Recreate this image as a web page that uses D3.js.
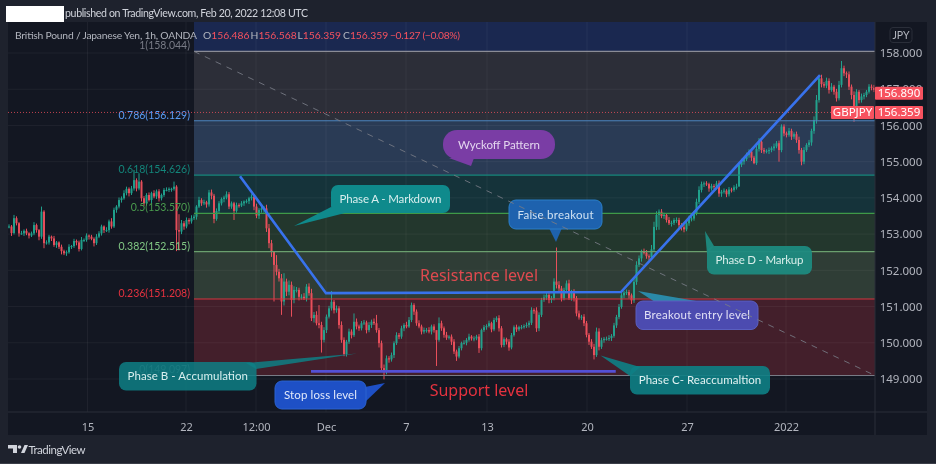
<!DOCTYPE html>
<html>
<head>
<meta charset="utf-8">
<style>
html,body{margin:0;padding:0;background:#1e222d;overflow:hidden;}
svg{display:block;font-family:Lato,"Noto Sans",sans-serif;filter:blur(0.35px);}
</style>
<script src="https://cdn.jsdelivr.net/npm/d3@7"></script>
</head>
<body>
<svg id="chart" width="936" height="464"></svg>
<script>
// hourly closes, left to right
const closes = [
153.21,153.03,153.44,153.30,153.02,153.02,153.09,153.02,152.96,153.02,153.25,153.11,152.93,153.62,152.75,152.77,152.93,152.88,152.70,152.77,
152.65,152.53,152.47,152.50,152.65,152.67,152.81,152.77,152.59,152.84,152.84,152.96,152.93,152.87,152.75,152.93,153.02,153.21,153.11,153.11,
153.35,153.21,153.67,153.76,153.94,153.99,154.13,154.25,154.13,154.26,154.49,154.26,154.45,153.99,153.85,154.08,153.94,154.13,154.04,154.18,
153.99,154.08,154.22,154.22,154.25,154.25,154.31,153.11,153.07,153.30,153.21,153.39,153.35,
153.44,153.48,153.76,153.94,153.85,153.88,153.82,154.15,154.06,153.42,153.64,153.85,153.97,154.01,154.10,153.76,153.85,153.64,153.80,153.79,
153.85,153.90,153.91,153.99,154.03,153.76,153.51,153.67,153.71,153.71,153.16,152.75,152.52,152.15,151.96,151.78,151.14,151.69,151.41,151.60,
151.18,151.46,
151.46,151.27,151.27,151.23,151.55,151.37,150.68,150.77,150.54,150.49,150.08,150.35,150.72,150.95,151.13,150.90,150.95,150.49,150.08,149.69,
150.03,150.31,150.21,150.58,150.45,150.40,150.54,150.56,150.35,150.49,150.58,150.54,150.35,149.99,149.30,149.20,149.57,149.54,149.66,149.99,
150.21,150.17,150.40,150.49,150.45,150.63,151.04,150.86,150.54,150.45,150.31,150.35,150.35,150.31,150.45,150.35,
150.08,150.54,150.40,150.22,150.14,150.17,150.03,149.76,149.62,149.85,149.99,150.00,150.08,150.17,150.12,150.12,150.17,149.85,150.35,150.43,
150.46,150.54,150.37,150.63,150.68,150.40,149.94,150.10,150.03,149.87,150.21,150.43,150.37,150.43,150.43,150.46,150.49,150.55,150.90,150.89,
150.40,150.77,151.18,151.25,151.32,151.18,151.23,151.69,151.60,151.50,151.23,151.46,151.64,151.23,151.41,151.23,150.81,150.70,150.72,150.54,
150.22,150.03,149.89,149.66,150.31,149.89,
150.07,150.11,150.11,150.13,150.19,150.48,150.71,150.99,151.31,151.38,151.40,151.31,151.17,151.68,
152.15,152.33,152.51,152.49,152.39,152.36,152.58,153.20,153.53,153.62,153.50,153.53,153.39,153.30,153.31,153.39,153.39,153.25,153.19,153.13,
153.30,153.43,153.43,153.57,153.89,154.22,154.38,154.40,154.38,154.26,154.33,154.31,154.40,154.12,154.17,154.20,154.10,154.23,154.22,154.29,154.31,
154.91,155.00,155.07,155.18,155.28,155.11,154.96,155.35,155.55,155.32,155.28,155.30,155.32,155.37,155.42,155.51,155.32,155.97,155.78,155.74,
155.85,155.69,155.76,155.60,155.32,155.00,155.32,155.46,155.53,155.85,156.15,156.70,157.30,157.14,157.10,157.23,156.98,157.07,156.93,156.75,
157.12,157.58,157.44,157.41,157.07,156.84,156.47,156.93,156.70,156.80,156.84,156.93,157.07,157.04,156.98
];

// small wicks on each bar, in yen above and below the body
const upperWicks = [
.06,.04,.09,.05,.03,.07,.04,.06,.03,.05,.08,.04,.03,.10,.04,.06,.05,.03,.07,.04,
.03,.06,.04,.05,.07,.03,.06,.04,.05,.08,.04,.06,.03,.05,.04,.07,.06,.05,.03,.08,
.05,.09,.06,.04,.07,.05,.08,.06,.04,.07,.09,.05,.08,.04,.06,.05,.07,.04,.08,.05,
.06,.04,.05,.07,.04,.03,.06,.08,.05,.09,.06,.07,.05,
.08,.06,.04,.09,.05,.07,.04,.06,.08,.05,.07,.06,.04,.05,.08,.06,.05,.04,.07,.05,
.06,.03,.05,.04,.07,.06,.08,.05,.04,.06,.10,.12,.09,.14,.10,.08,.12,.10,.08,.12,
.09,.10,
.08,.06,.07,.10,.05,.09,.12,.08,.10,.07,.09,.08,.06,.07,.09,.05,.08,.06,.10,.07,
.05,.08,.06,.07,.09,.05,.06,.07,.05,.08,.06,.09,.05,.06,.07,.10,.08,.06,.07,.05,
.08,.06,.07,.05,.09,.08,.07,.05,.06,.08,.05,.07,.06,.08,.05,.06,
.10,.06,.07,.05,.08,.04,.06,.07,.05,.06,.04,.07,.05,.08,.04,.06,.05,.07,.04,.06,
.05,.07,.04,.06,.05,.08,.06,.05,.04,.07,.06,.05,.07,.04,.06,.05,.07,.06,.08,.05,
.09,.07,.06,.08,.07,.10,.06,.09,.08,.10,.07,.06,.08,.10,.05,.07,.06,.08,.05,.07,
.06,.05,.07,.08,.09,.06,
.07,.05,.06,.08,.05,.07,.06,.08,.06,.05,.07,.06,.05,.09,
.10,.08,.06,.09,.07,.05,.12,.14,.10,.08,.07,.06,.05,.08,.06,.05,.07,.06,.05,.07,
.06,.08,.05,.07,.09,.10,.07,.05,.06,.04,.06,.05,.07,.08,.05,.06,.04,.07,.05,.06,.08,
.06,.08,.05,.07,.06,.09,.05,.08,.07,.05,.06,.04,.07,.05,.08,.06,.07,.09,.06,.05,
.08,.06,.05,.07,.09,.06,.08,.05,.07,.06,.10,.14,.08,.10,.06,.09,.07,.10,.05,.08,
.11,.09,.07,.05,.08,.06,.10,.07,.05,.08,.06,.05,.07,.06,.08
];
const lowerWicks = [
.05,.08,.04,.06,.09,.04,.07,.05,.08,.04,.05,.07,.10,.06,.08,.04,.06,.07,.05,.08,
.06,.09,.05,.07,.04,.06,.05,.08,.07,.04,.06,.05,.08,.04,.09,.05,.04,.06,.08,.05,
.07,.06,.04,.08,.05,.07,.04,.06,.09,.05,.06,.08,.05,.09,.07,.06,.04,.08,.05,.07,
.09,.06,.05,.04,.06,.08,.05,.12,.10,.07,.09,.05,.08,
.06,.05,.08,.04,.07,.05,.09,.06,.10,.07,.05,.08,.06,.09,.05,.07,.06,.08,.05,.06,
.04,.07,.05,.08,.06,.10,.07,.09,.08,.12,.10,.14,.15,.12,.10,.09,.14,.11,.12,.10,
.12,.09,
.07,.10,.08,.05,.09,.07,.08,.12,.06,.09,.10,.07,.08,.05,.06,.09,.07,.10,.08,.09,
.07,.06,.09,.05,.08,.07,.06,.05,.09,.06,.08,.05,.07,.12,.10,.08,.07,.09,.06,.08,
.05,.07,.06,.08,.05,.04,.06,.09,.07,.05,.08,.06,.07,.05,.08,.07,
.09,.05,.07,.08,.06,.05,.09,.07,.10,.05,.06,.04,.07,.05,.06,.08,.05,.09,.06,.05,
.07,.04,.08,.05,.06,.09,.07,.06,.08,.10,.05,.04,.07,.05,.06,.04,.05,.07,.06,.09,
.10,.08,.06,.05,.07,.09,.08,.06,.10,.07,.09,.06,.08,.05,.07,.09,.08,.06,.07,.08,
.07,.09,.06,.08,.05,.10,
.06,.07,.05,.06,.08,.05,.07,.06,.05,.08,.06,.09,.10,.07,
.08,.06,.09,.05,.07,.08,.06,.05,.09,.07,.06,.08,.07,.05,.09,.06,.08,.07,.09,.06,
.05,.07,.08,.06,.05,.06,.07,.08,.05,.09,.06,.07,.08,.06,.09,.05,.08,.06,.07,.05,.06,
.10,.06,.08,.05,.07,.09,.12,.05,.07,.08,.06,.05,.09,.06,.07,.05,.09,.06,.08,.07,
.05,.09,.06,.08,.10,.12,.07,.05,.06,.09,.08,.10,.07,.09,.06,.07,.10,.05,.08,.09,
.06,.07,.08,.10,.09,.12,.08,.06,.09,.07,.08,.06,.05,.07,.06
];

// the wicks that stick out enough to read
const wickBars  = [13,14,23,50,52,66,67,68,80,82,90,106,107,109,110,113,119,124,125,129,134,138,147,150,161,171,172,179,188,200,219,234,235,236,260,270,284,292,298,300,308,309,317,333,338];
const wickHighs = [153.76,null,null,154.77,154.68,154.45,154.35,153.55,154.22,null,null,152.30,152.42,null,151.92,null,151.62,151.04,null,151.43,null,150.81,150.77,null,151.11,150.20,150.70,null,null,null,152.63,null,150.42,150.40,153.68,null,null,null,null,155.65,null,156.03,null,157.78,null];
const wickLows  = [null,152.61,152.40,null,null,null,152.53,152.55,null,153.30,153.39,151.14,null,150.77,null,150.72,null,null,149.73,null,149.63,null,null,148.99,null,149.36,null,149.50,149.72,149.78,null,149.54,null,null,153.12,153.05,154.03,154.50,154.93,null,155.00,null,154.90,null,156.10];

const fibRatios = ['1','0.786','0.618','0.5','0.382','0.236','0'];
const fibPrices = [158.044,156.129,154.626,153.570,152.515,151.208,149.097];

const priceTicks = [158,157,156,155,154,153,152,151,150,149];
const timeTickBars = [31.4,70.8,98.8,126.8,158.8,191.2,231.2,271.2,310.8];
const timeTickLabels = ['15','22','12:00','Dec','7','13','20','27','2022'];

const lastPrice = 156.359;
const crossPrice = 156.890;

// drawn trend lines, as bar / price
const trendBars = [92.4,126.8,244.8,324.4];
const trendPrices = [154.60,151.37,151.40,157.39];
const supportBars = [120.8,242.7];
const supportPrices = [149.21,149.21];

const ohlcLabels = ['O','H','L','C'];
const ohlcValues = ['156.486','156.568','156.359','156.359'];

const fibColors = ['#787b86','#5b9cf6','#13857a','#4a9c4e','#81c784','#e5323f','#5d6069'];
const fibLineColors = ['#8a8c96','#4d86c0','#16887c','#3f9a48','#6a9f6e','#d8343f','#787b86'];
const bandColors = ['#2c2e38','#2a3b55','#15333a','#23372d','#2f3d36','#431f2b'];
const upColor = '#22ab94', downColor = '#f7525f';

const W = 936, H = 464;
const pane = {l:8, t:22, r:875, b:412};
const axisRight = 927, axisBottom = 435;

const svg = d3.select('#chart');
const x = d3.scaleLinear().domain([0, closes.length-1]).range([9, 874]);
const y = d3.scaleLinear().domain([149, 158]).range([379, 53]);

// backgrounds
svg.append('rect').attr('width',W).attr('height',H).attr('fill','#1e222d');
svg.append('rect').attr('y',463).attr('width',W).attr('height',1).attr('fill','#3a3d47');
svg.append('rect').attr('x',pane.l).attr('y',pane.t).attr('width',axisRight-pane.l).attr('height',axisBottom-pane.t).attr('fill','#131722');

const bandX = x(74);
svg.append('rect').attr('x',bandX).attr('y',pane.t).attr('width',pane.r-bandX).attr('height',y(fibPrices[0])-pane.t).attr('fill','#1a2850');
svg.selectAll('.band')
	.data(bandColors)
	.join('rect')
	.attr('class','band')
	.attr('x',bandX)
	.attr('y',(d,i)=>y(fibPrices[i]))
	.attr('width',pane.r-bandX)
	.attr('height',(d,i)=>y(fibPrices[i+1])-y(fibPrices[i]))
	.attr('fill',d=>d);

// grid
const grid = svg.append('g').attr('stroke','#ffffff').attr('stroke-opacity',0.05);
grid.selectAll('.h').data(priceTicks).join('line').attr('class','h')
	.attr('x1',pane.l).attr('x2',pane.r).attr('y1',d=>y(d)).attr('y2',d=>y(d));
grid.selectAll('.v').data(timeTickBars).join('line').attr('class','v')
	.attr('x1',d=>x(d)).attr('x2',d=>x(d)).attr('y1',pane.t).attr('y2',pane.b);

// candles
const candles = closes.map((c,i)=>{
	const o = i===0 ? c : closes[i-1];
	const w = wickBars.indexOf(i);
	const hi = w>=0 && wickHighs[w]!==null ? wickHighs[w] : Math.max(o,c)+(upperWicks[i]||0);
	const lo = w>=0 && wickLows[w]!==null ? wickLows[w] : Math.min(o,c)-(lowerWicks[i]||0);
	return {i, o, c, hi, lo};
});
const candleG = svg.append('g').attr('opacity',0.92);
candleG.selectAll('line').data(candles).join('line')
	.attr('x1',d=>x(d.i)).attr('x2',d=>x(d.i))
	.attr('y1',d=>y(d.hi)).attr('y2',d=>y(d.lo))
	.attr('stroke',d=>d.c>=d.o?upColor:downColor).attr('stroke-width',1);
candleG.selectAll('rect').data(candles).join('rect')
	.attr('x',d=>x(d.i)-1).attr('width',2)
	.attr('y',d=>y(Math.max(d.o,d.c)))
	.attr('height',d=>Math.max(1,Math.abs(y(d.o)-y(d.c))))
	.attr('fill',d=>d.c>=d.o?upColor:downColor);

// fib lines and labels
svg.selectAll('.fib').data(fibPrices).join('line').attr('class','fib')
	.attr('x1',bandX).attr('x2',pane.r)
	.attr('y1',d=>y(d)).attr('y2',d=>y(d))
	.attr('stroke',(d,i)=>fibLineColors[i]).attr('stroke-width',1.2);
svg.selectAll('.fibText').data(fibPrices).join('text').attr('class','fibText')
	.attr('x',190).attr('y',d=>y(d)-2)
	.attr('text-anchor','end').attr('font-size',10.5)
	.attr('fill',(d,i)=>fibColors[i])
	.text((d,i)=>`${fibRatios[i]}(${d.toFixed(3)})`);

// last price line
svg.append('line')
	.attr('x1',pane.l).attr('x2',pane.r).attr('y1',y(lastPrice)).attr('y2',y(lastPrice))
	.attr('stroke','#f7525f').attr('stroke-opacity',0.75).attr('stroke-dasharray','1,2');

// trend lines
const lineGen = d3.line().x(d=>x(d[0])).y(d=>y(d[1]));
svg.append('path').attr('d',lineGen(trendBars.map((b,i)=>[b,trendPrices[i]])))
	.attr('fill','none').attr('stroke','#3872ec').attr('stroke-width',2.6);
svg.append('path').attr('d',lineGen(supportBars.map((b,i)=>[b,supportPrices[i]])))
	.attr('fill','none').attr('stroke','#5451d6').attr('stroke-width',2.6);

// axes
const yAxis = d3.axisRight(y).tickValues(priceTicks).tickSize(0).tickPadding(0).tickFormat(d3.format('.3f'));
const yG = svg.append('g').attr('transform',`translate(${pane.r},0)`).call(yAxis);
yG.select('.domain').remove();
yG.selectAll('text').attr('x',26).attr('text-anchor','middle').attr('font-size',11.5).attr('font-family','"Noto Sans"').attr('fill','#b2b5be');

const xAxis = d3.axisBottom(x).tickValues(timeTickBars).tickSize(0).tickPadding(0).tickFormat((d,i)=>timeTickLabels[i]);
const xG = svg.append('g').attr('transform',`translate(0,${pane.b})`).call(xAxis);
xG.select('.domain').remove();
xG.selectAll('text').attr('y',11).attr('font-size',11).attr('font-family','"Noto Sans"').attr('fill','#b2b5be');

svg.append('line').attr('x1',pane.l).attr('x2',axisRight).attr('y1',pane.b).attr('y2',pane.b).attr('stroke','#2a2e39');
svg.append('line').attr('x1',pane.r).attr('x2',pane.r).attr('y1',pane.t).attr('y2',axisBottom).attr('stroke','#2a2e39');

// price tags
function tag(tx, ty, tw, th, label){
	svg.append('rect').attr('x',tx).attr('y',ty).attr('width',tw).attr('height',th).attr('rx',1).attr('fill','#f7525f');
	svg.append('text').attr('x',tx+tw/2).attr('y',ty+th/2+4).attr('text-anchor','middle')
		.attr('font-size',11.5).attr('font-family','"Noto Sans"').attr('fill','#ffffff').text(label);
}
tag(pane.r, y(crossPrice)-6.5, 48, 13, crossPrice.toFixed(3));
tag(pane.r, y(lastPrice)-6.5, 48, 13, lastPrice.toFixed(3));
tag(831, y(lastPrice)-6.5, 43, 13, 'GBPJPY');

svg.append('rect').attr('x',890).attr('y',27.5).attr('width',22).attr('height',15).attr('rx',3)
	.attr('fill','#131722').attr('stroke','#2a2e39');
svg.append('text').attr('x',901).attr('y',38.5).attr('text-anchor','middle').attr('font-size',10.5).attr('fill','#b2b5be').text('JPY');

// level captions
svg.append('text').attr('x',479).attr('y',281).attr('text-anchor','middle').attr('font-family','"Noto Sans"').attr('font-size',16).attr('fill','#de4a4f').text('Resistance level');
svg.append('text').attr('x',479).attr('y',396).attr('text-anchor','middle').attr('font-family','"Noto Sans"').attr('font-size',16).attr('fill','#e5323f').text('Support level');

// speech bubbles, laid out on the page rather than on the scales
const bubbles = [
	{text:'Wyckoff Pattern', x:443, y:130, w:112, h:29, r:14, fill:'#7a3da5', op:1, tw:82, tail:[[449,158],[471,166],[474,158]], color:'#e4d6ef'},
	{text:'Phase A - Markdown', x:331, y:185, w:119, h:28, r:7, fill:'#0f8a8c', op:1, tw:102, tail:[[331,207],[294,226],[345,213]], color:'#d8eeee'},
	{text:'False breakout', x:509, y:200, w:93, h:29, r:7, fill:'#1e62ae', op:1, tw:76, tail:[[549,228],[556,242],[562,228]], color:'#cfe1f2', stroke:'#2a7fc9'},
	{text:'Phase D - Markup', x:707, y:246, w:105, h:28.5, r:7, fill:'#1d8a80', op:0.95, tw:88, tail:[[707,254],[705,231],[714,246]], color:'#d8eeea'},
	{text:'Breakout entry level', x:636, y:301, w:122, h:28.5, r:7, fill:'#4c4bb0', op:1, tw:106, tail:[[655,302],[638,291],[702,302]], tailFill:'#2a8aa8', color:'#e0dff5', stroke:'#5a5fc0'},
	{text:'Phase B - Accumulation', x:119, y:362, w:137.5, h:28.5, r:7, fill:'#0e7f85', op:0.85, tw:120.5, tail:[[246,363],[357,353.5],[256,369]], color:'#d8eeee'},
	{text:'Stop loss level', x:275, y:381, w:91, h:28, r:7, fill:'#1e50c6', op:1, tw:73, tail:[[365,387],[385,383],[365,402]], color:'#e2e9fa', stroke:'#2a62d0'},
	{text:'Phase C- Reaccumaltion', x:630, y:366, w:140, h:28.5, r:7, fill:'#0e7f85', op:0.9, tw:122.5, tail:[[630,376],[600.5,355.5],[640,367]], color:'#e2f2f2'}
];
const bubbleG = svg.selectAll('.bubble').data(bubbles).join('g').attr('class','bubble');
bubbleG.append('path')
	.attr('d',d=>'M'+d.tail.join('L')+'Z')
	.attr('fill',d=>d.tailFill||d.fill).attr('fill-opacity',d=>d.op);
bubbleG.append('rect')
	.attr('x',d=>d.x).attr('y',d=>d.y).attr('width',d=>d.w).attr('height',d=>d.h).attr('rx',d=>d.r)
	.attr('fill',d=>d.fill).attr('fill-opacity',d=>d.op)
	.attr('stroke',d=>d.stroke||'none');
bubbleG.append('text')
	.attr('x',d=>d.x+d.w/2).attr('y',d=>d.y+d.h/2+4)
	.attr('text-anchor','middle').attr('font-size',11.5).attr('textLength',d=>d.tw)
	.attr('fill',d=>d.color).text(d=>d.text);

// dashed fib trend line, it runs over the bubbles
svg.append('line')
	.attr('x1',bandX).attr('y1',y(fibPrices[0]))
	.attr('x2',pane.r).attr('y2',y(fibPrices[6]))
	.attr('stroke','#787b86').attr('stroke-opacity',0.85).attr('stroke-width',1).attr('stroke-dasharray','6,6');

// header
svg.append('rect').attr('x',6).attr('y',6).attr('width',58).attr('height',16).attr('fill','#ffffff');
svg.append('text').attr('x',65).attr('y',17).attr('font-size',10.6).attr('textLength',243).attr('fill','#d1d4dc')
	.text('published on TradingView.com, Feb 20, 2022 12:08 UTC');
svg.append('text').attr('x',15).attr('y',39).attr('font-size',10.3).attr('textLength',182).attr('fill','#b2b5be')
	.text('British Pound / Japanese Yen, 1h, OANDA');

const ohlcX = [203,250.5,297.5,343];
const legend = svg.selectAll('.ohlc').data(ohlcValues).join('text').attr('class','ohlc')
	.attr('x',(d,i)=>ohlcX[i]).attr('y',39).attr('font-size',10.3).attr('fill',downColor);
legend.append('tspan').attr('fill','#b2b5be').text((d,i)=>ohlcLabels[i]);
legend.append('tspan').text(d=>d);
svg.append('text').attr('x',390).attr('y',39).attr('font-size',10.3).attr('textLength',70).attr('fill',downColor).text('\u22120.127 (\u22120.08%)');

// footer logo
const logo = svg.append('g').attr('fill','#d1d4dc');
logo.append('path').attr('d','M8 445H17V453H13V448.5H8Z');
logo.append('circle').attr('cx',19.5).attr('cy',447).attr('r',1.8);
logo.append('path').attr('d','M21 453L24.5 445H28L24.5 453Z');
svg.append('text').attr('x',28.5).attr('y',453.5).attr('font-size',11.5).attr('textLength',57).attr('fill','#d1d4dc').text('TradingView');
</script>
</body>
</html>
